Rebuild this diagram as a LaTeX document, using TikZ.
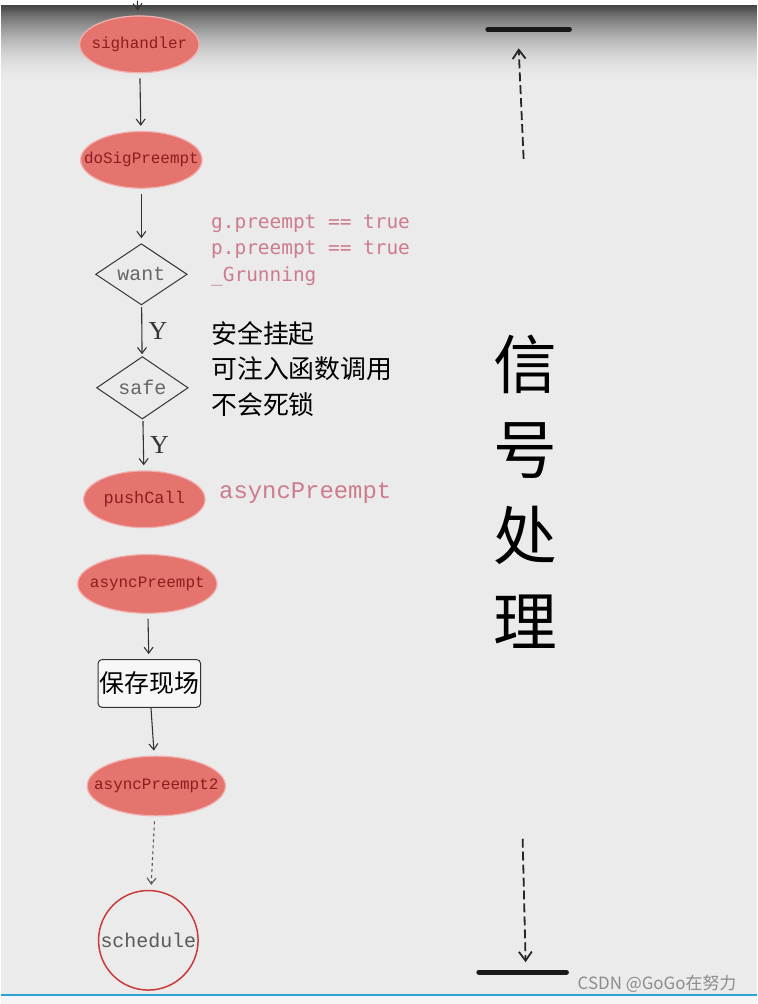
\documentclass[tikz,border=0pt]{standalone}
\usepackage{fontspec}
\setmainfont{Liberation Serif}
\newfontfamily\cjk{Noto Sans CJK SC}
\newfontfamily\codefont{Liberation Mono}
\newfontfamily\notefont{DejaVu Sans Mono}
\usetikzlibrary{arrows.meta, positioning, shapes.geometric}

\definecolor{bg}{HTML}{EBEBEB}
\definecolor{salmon}{HTML}{E5736E}
\definecolor{fnred}{HTML}{8A1E1E}
\definecolor{notepink}{HTML}{CC7C8C}
\definecolor{schedred}{HTML}{C93A3A}
\definecolor{csdnblue}{HTML}{2EA3D6}

\begin{document}
\begin{tikzpicture}[x=1pt, y=-1pt,
  fn/.style={ellipse, fill=salmon, draw=salmon!55, line width=1.2pt, inner xsep=-20pt, inner ysep=0pt,
             minimum height=57pt, text=fnred, font=\codefont\fontsize{16}{16}\selectfont},
  cond/.style={diamond, draw=black!80, line width=1pt, fill=bg, inner sep=0pt,
               minimum width=92pt, minimum height=58pt, text=black!60,
               font=\codefont\fontsize{20}{20}\selectfont},
  flow/.style={draw=black!80, line width=1.1pt, -{Straight Barb[length=6pt, width=9pt]},
               shorten <=5pt, shorten >=5pt},
  yes/.style={font=\fontsize{26}{26}\selectfont, text=black!80, right=3pt},
  note/.style={anchor=west, inner sep=0pt, align=left},
  bar/.style={line width=5pt, line cap=round, draw=black!90},
  spanarrow/.style={dashed, dash pattern=on 9pt off 4pt, line width=1.8pt, draw=black!85,
                -{Straight Barb[length=9pt, width=13pt]}}]

  % Background with the dark band on top and the blue rule at the bottom
  \fill[bg] (0,0) rectangle (759,1004);
  \foreach \i in {0,...,39}{
    \pgfmathsetmacro\darkamt{70*(1-\i/40)^2}
    \fill[black!\darkamt!bg] (0,2*\i) rectangle (759,2*\i+2.4);
  }
  \fill[black!4] (0,995) rectangle (759,1004);
  \draw[csdnblue, line width=2pt] (0,995) -- (759,995);

  % Call chain
  \coordinate (entry) at (137,-4);
  \node[fn, minimum width=120pt] (sighandler) at (139,40) {sighandler};
  \node[fn, minimum width=122pt] (dosig) at (141,156) {doSigPreempt};
  \node[cond] (want) at (141,271) {want};
  \node[cond] (safe) at (142,385) {safe};
  \node[fn, minimum width=122pt, font=\codefont\fontsize{17}{17}\selectfont] (pushcall) at (144,497) {pushCall};
  \node[fn, minimum width=140pt, minimum height=59pt] (asyncpre) at (147,582) {asyncPreempt};
  \node[draw=black!80, line width=1pt, rounded corners=4pt, fill=black!3,
        minimum width=103pt, minimum height=48pt, inner sep=0pt,
        font=\cjk\fontsize{25}{25}\selectfont] (savectx) at (149,682) {保存现场};
  \node[fn, minimum width=139pt, minimum height=60pt] (asyncpre2) at (156,785) {asyncPreempt2};
  \node[circle, draw=schedred, line width=1.5pt, minimum size=100pt, inner sep=0pt,
        text=black!65, font=\codefont\fontsize{20}{20}\selectfont] (schedule) at (148,940) {schedule};

  \draw[flow, shorten <=0pt] (entry) -- (sighandler);
  \draw[flow] (sighandler) -- (dosig);
  \draw[flow] (dosig) -- (want);
  \draw[flow, shorten <=2pt, shorten >=2pt] (want) -- node[yes] {Y} (safe);
  \draw[flow, shorten <=2pt] (safe) -- node[yes] {Y} (pushcall);
  \draw[flow] (asyncpre) -- (savectx);
  \draw[flow, shorten <=0pt] (savectx) -- (asyncpre2);
  \draw[flow, dashed, draw=black!65] (asyncpre2) -- (schedule);

  % Notes beside the chain
  \node[note, text=notepink, font=\notefont\fontsize{19.5}{26.5}\selectfont] (wantnote) at (211,247)
    {g.preempt == true\\p.preempt == true\\\_Grunning};
  \node[note, font=\cjk\fontsize{26}{35.5}\selectfont] (safenote) at (211,366)
    {安全挂起\\可注入函数调用\\不会死锁};
  \node[note, text=notepink, font=\codefont\fontsize{24}{24}\selectfont] (pushnote) at (219,491) {asyncPreempt};

  % Signal handling span
  \coordinate (topL) at (489,25);
  \coordinate (topR) at (571,25);
  \coordinate (upS) at (525,155);
  \coordinate (upE) at (520,44);
  \coordinate (downS) at (524,838);
  \coordinate (downE) at (527,962);
  \coordinate (botL) at (480,972);
  \coordinate (botR) at (568,972);
  \draw[bar] (topL) -- (topR);
  \draw[spanarrow] (upS) -- (upE);
  \draw[spanarrow] (downS) -- (downE);
  \draw[bar] (botL) -- (botR);
  \node[align=center, inner sep=0pt, font=\cjk\fontsize{64}{86}\selectfont] (sigproc) at (527,489)
    {信\\号\\处\\理};

  \node[inner sep=0pt, text=black!45, font=\cjk\fontsize{17}{17}\selectfont] (mark) at (659,984) {CSDN @GoGo在努力};
\end{tikzpicture}
\end{document}
